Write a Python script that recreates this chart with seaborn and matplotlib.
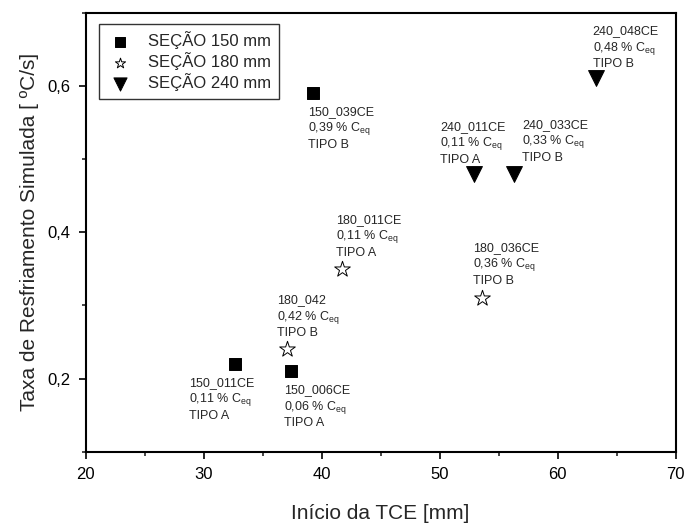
import matplotlib.pyplot as plt
import pandas as pd
import seaborn as sns
from matplotlib.ticker import MultipleLocator

# Data
secoes = ['SEÇÃO 150 mm', 'SEÇÃO 180 mm', 'SEÇÃO 240 mm']

inicio_150 = [32.7, 37.4, 39.3]
taxa_150 = [0.22, 0.21, 0.59]
nomes_150 = ['150_011CE', '150_006CE', '150_039CE']
ceq_150 = ['0,11', '0,06', '0,39']
tipo_150 = ['A', 'A', 'B']

inicio_180 = [37.1, 41.75, 53.6]
taxa_180 = [0.24, 0.35, 0.31]
nomes_180 = ['180_042', '180_011CE', '180_036CE']
ceq_180 = ['0,42', '0,11', '0,36']
tipo_180 = ['B', 'A', 'B']

inicio_240 = [52.9, 56.3, 63.2]
taxa_240 = [0.48, 0.48, 0.61]
nomes_240 = ['240_011CE', '240_033CE', '240_048CE']
ceq_240 = ['0,11', '0,33', '0,48']
tipo_240 = ['A', 'B', 'B']

x_ticks = [20, 30, 40, 50, 60, 70]
y_ticks = [0.2, 0.4, 0.6]
y_tick_labels = ['0,2', '0,4', '0,6']

df = pd.DataFrame({
    'inicio': inicio_150 + inicio_180 + inicio_240,
    'taxa': taxa_150 + taxa_180 + taxa_240,
    'nome': nomes_150 + nomes_180 + nomes_240,
    'ceq': ceq_150 + ceq_180 + ceq_240,
    'tipo': tipo_150 + tipo_180 + tipo_240,
    'secao': [secoes[0]] * 3 + [secoes[1]] * 3 + [secoes[2]] * 3,
})

sns.set_style('ticks')
plt.rcParams['font.family'] = ['Liberation Sans', 'DejaVu Sans']
plt.rcParams['mathtext.fontset'] = 'custom'
plt.rcParams['mathtext.rm'] = 'Liberation Sans'
plt.rcParams['mathtext.it'] = 'Liberation Sans'

fig = plt.figure(figsize=(6.84, 5.23), dpi=100)
ax = fig.add_axes([0.125, 0.136, 0.863, 0.840])

estilos = {
    secoes[0]: dict(marker='s', facecolor='black', s=80),
    secoes[1]: dict(marker='*', facecolor='white', s=140),
    secoes[2]: dict(marker='v', facecolor='black', s=130),
}
for sec in secoes:
    st = estilos[sec]
    sns.scatterplot(data=df[df['secao'] == sec], x='inicio', y='taxa', ax=ax,
                    marker=st['marker'], s=st['s'], color=st['facecolor'],
                    edgecolor='black', linewidth=0.7, label=sec)

# label offsets in pixels (dx, dy, va)
offsets = {
    '150_039CE': (-5, -13, 'top'),
    '150_011CE': (-46, -13, 'top'),
    '150_006CE': (-7, -13, 'top'),
    '180_042': (-10, 10, 'bottom'),
    '180_011CE': (-6, 10, 'bottom'),
    '180_036CE': (-9, 11, 'bottom'),
    '240_011CE': (-34, 8, 'bottom'),
    '240_033CE': (8, 10, 'bottom'),
    '240_048CE': (-3, 8, 'bottom'),
}
for _, r in df.iterrows():
    dx, dy, va = offsets[r['nome']]
    txt = f"{r['nome']}\n{r['ceq']} % C$_{{\\rm eq}}$\nTIPO {r['tipo']}"
    ax.annotate(txt, (r['inicio'], r['taxa']), xytext=(dx, dy),
                textcoords='offset pixels', ha='left', va=va,
                fontsize=9, linespacing=1.2)

ax.set_xlim(20, 70)
ax.set_ylim(0.1, 0.7)
ax.set_xticks(x_ticks)
ax.set_yticks(y_ticks)
ax.set_yticklabels(y_tick_labels)
ax.xaxis.set_minor_locator(MultipleLocator(5))
ax.yaxis.set_minor_locator(MultipleLocator(0.1))
ax.tick_params(which='major', direction='out', length=5, width=1.2, labelsize=12,
               colors='black', pad=6)
ax.tick_params(which='minor', direction='out', length=3, width=1.2)
for sp in ax.spines.values():
    sp.set_linewidth(1.5)
    sp.set_color('black')

ax.set_xlabel('Início da TCE [mm]', fontsize=15, labelpad=16)
ax.set_ylabel('Taxa de Resfriamento Simulada [ ºC/s]', fontsize=15, labelpad=6)

leg = ax.legend(loc='upper left', bbox_to_anchor=(0.0225, 0.974), borderaxespad=0,
                fontsize=12, frameon=True, fancybox=False, labelspacing=0.18,
                handletextpad=0.9, borderpad=0.45, handlelength=1.6)
leg.get_frame().set_edgecolor('black')
leg.get_frame().set_linewidth(1.0)
for h, sz in zip(leg.legend_handles, [55, 60, 90]):
    h.set_sizes([sz])

fig.savefig('out.png', dpi=100)
